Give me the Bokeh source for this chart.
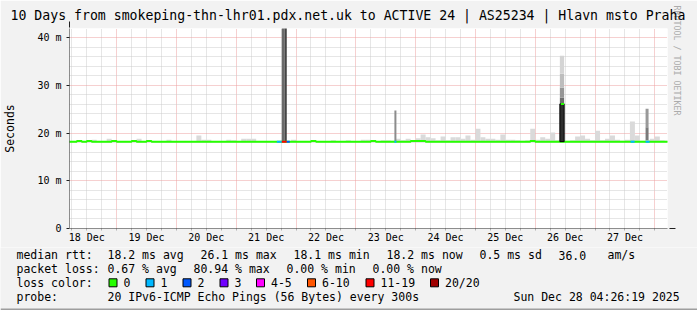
import math
from bokeh.plotting import figure
from bokeh.layouts import column
from bokeh.models import FixedTicker, Arrow, NormalHead, Title
from bokeh.core.properties import value
from bokeh.embed import file_html
from bokeh.resources import INLINE

# ---------------- data ----------------
# time axis: hours since 18 Dec 00:00
x_start_h = 5.08
x_end_h = 245.08
day_labels = ["18 Dec", "19 Dec", "20 Dec", "21 Dec", "22 Dec",
              "23 Dec", "24 Dec", "25 Dec", "26 Dec", "27 Dec"]
day_noon_h = [12, 36, 60, 84, 108, 132, 156, 180, 204, 228]
midnight_h = [24, 48, 72, 96, 120, 144, 168, 192, 216, 240]
quarter_h = [6, 12, 18, 30, 36, 42, 54, 60, 66, 78, 84, 90, 102, 108, 114,
             126, 132, 138, 150, 156, 162, 174, 180, 186, 198, 204, 210,
             222, 228, 234]
y_ticks = [0, 10, 20, 30, 40]
y_tick_labels = ["0", "10 m", "20 m", "30 m", "40 m"]
y_minor = [2, 4, 6, 8, 12, 14, 16, 18, 22, 24, 26, 28, 32, 34, 36, 38]

# 2-hour bins starting at hour 4 (ms)
bin_start = list(range(4, 246, 2))
median_ms = [
    18.2, 18.2, 18.35, 18.2, 18.35, 18.2, 18.2, 18.2, 18.2, 18.35, 18.2, 18.2,
    18.2, 18.35, 18.2, 18.2, 18.35, 18.2, 18.2, 18.2, 18.2, 18.2, 18.2, 18.2,
    18.2, 18.2, 18.2, 18.2, 18.2, 18.2, 18.2, 18.2, 18.2, 18.2, 18.2, 18.2,
    18.2, 18.2, 18.2, 18.2, 18.2, 18.2, 18.2, 18.2, 18.2, 18.2, 18.2, 18.2,
    18.2, 18.35, 18.2, 18.2, 18.2, 18.2, 18.2, 18.2, 18.2, 18.2, 18.2, 18.2,
    18.2, 18.35, 18.2, 18.2, 18.2, 18.2, 18.2, 18.2, 18.2, 18.35, 18.35, 18.35,
    18.2, 18.2, 18.2, 18.2, 18.2, 18.2, 18.2, 18.2, 18.2, 18.2, 18.2, 18.2,
    18.2, 18.2, 18.2, 18.2, 18.2, 18.2, 18.2, 18.2, 18.2, 18.35, 18.2, 18.2,
    18.2, 18.2, 18.2, 18.2, 18.2, 18.2, 18.2, 18.2, 18.2, 18.2, 18.2, 18.2,
    18.2, 18.2, 18.2, 18.2, 18.2, 18.2, 18.2, 18.2, 18.2, 18.2, 18.2, 18.2,
    18.2,
]
smoke_max_ms = [
    18.3, 18.3, 18.3, 18.3, 18.3, 18.6, 18.3, 18.3, 18.8, 18.3, 18.3, 18.3,
    18.3, 18.3, 18.8, 18.3, 18.3, 18.3, 18.3, 18.3, 18.6, 18.3, 18.3, 18.3,
    18.3, 18.3, 19.5, 18.6, 18.6, 18.3, 18.3, 18.3, 18.6, 18.5, 18.3, 18.8,
    18.8, 18.8, 18.3, 18.3, 18.3, 18.3, 18.3, 18.3, 18.3, 18.6, 18.3, 18.3,
    18.3, 18.3, 18.3, 18.3, 18.3, 18.5, 18.3, 18.3, 18.5, 18.3, 18.3, 18.6,
    18.6, 18.3, 18.3, 18.5, 18.5, 18.4, 18.8, 18.5, 18.8, 18.5, 18.9, 19.7,
    19.1, 18.9, 18.5, 19.3, 18.5, 19.1, 19.1, 18.8, 19.5, 18.6, 20.9, 19.1,
    18.8, 18.8, 18.6, 19.7, 18.6, 18.6, 18.5, 18.4, 18.5, 20.9, 18.6, 19.1,
    18.8, 20.1, 18.5, 18.4, 18.4, 18.5, 19.3, 19.5, 18.8, 18.5, 20.5, 18.5,
    18.8, 19.5, 18.6, 18.4, 18.6, 22.4, 19.5, 18.4, 18.5, 18.8, 19.3, 18.5,
    18.4,
]

# dense smoke of the spikes (hours, ms, share of pings in that band)
spike_start_h = [90.28, 91.48, 135.48, 201.88, 201.88, 201.88, 201.88, 236.28, 236.28]
spike_end_h = [91.48, 92.28, 136.28, 203.6, 203.6, 203.6, 203.6, 237.48, 237.48]
spike_low_ms = [18.2, 18.2, 18.2, 26.1, 27.4, 29.5, 32.4, 18.5, 21.2]
spike_high_ms = [60.0, 60.0, 24.7, 27.4, 29.5, 32.4, 36.2, 21.2, 25.1]
spike_density = [0.58, 0.73, 0.45, 0.57, 0.41, 0.26, 0.17, 0.52, 0.40]

# median jump on 26 Dec (ms)
jump_start_h = [201.88]
jump_end_h = [203.6]
jump_low_ms = [18.2]
jump_median_ms = [26.1]

# loss events (hours, lost pings out of 20)
loss_start_h = [88.28, 90.28, 92.28, 135.48, 230.28, 236.28]
loss_end_h = [90.28, 92.28, 93.48, 136.28, 231.88, 237.88]
loss_count = [1, 15, 2, 1, 1, 1]

loss_legend = ["0", "1", "2", "3", "4-5", "6-10", "11-19", "20/20"]
loss_colors = ["#26ff00", "#00b8ff", "#0059ff", "#7000ff", "#ff00ff",
               "#ff5500", "#ff0000", "#a00000"]

stats_rtt = {"avg": 18.2, "max": 26.1, "min": 18.1, "now": 18.2, "sd": 0.5, "ams": 36.0}
stats_loss = {"avg": 0.67, "max": 80.94, "min": 0.00, "now": 0.00}

title_text = "10 Days from smokeping-thn-lhr01.pdx.net.uk to ACTIVE 24 | AS25234 | Hlavn msto Praha"
probe_text = "20 IPv6-ICMP Echo Pings (56 Bytes) every 300s"
stamp_text = "Sun Dec 28 04:26:19 2025"


def loss_color(n):
    if n == 0:
        return loss_colors[0]
    if n == 1:
        return loss_colors[1]
    if n == 2:
        return loss_colors[2]
    if n == 3:
        return loss_colors[3]
    if n <= 5:
        return loss_colors[4]
    if n <= 10:
        return loss_colors[5]
    if n <= 19:
        return loss_colors[6]
    return loss_colors[7]


def grey(d):
    v = int(round(255 * (1 - d)))
    return "#%02x%02x%02x" % (v, v, v)


MONO = "DejaVu Sans Mono"
BACK = "#f2f2f2"
EDGE = "#9e9e9e"
FULL_W = 697
MAIN_H = 247       # frame: top 28, bottom 228
LEG_H = 310 - MAIN_H

# ---------------- main figure ----------------
p = figure(width=FULL_W, height=MAIN_H, x_range=(x_start_h, x_end_h), y_range=(0, 41.9),
           output_backend="svg", toolbar_location=None,
           min_border_left=67, min_border_right=FULL_W - 667, min_border_top=28,
           min_border_bottom=MAIN_H - 228,
           background_fill_color="white", border_fill_color=BACK)
p.outline_line_color = None
p.frame_align = False

p.title.text = title_text
p.title.text_font = MONO
p.title.text_font_size = "13.2px"
p.title.text_font_style = "normal"
p.title.align = "left"
p.title.offset = -59
p.title.text_color = "black"
p.title.standoff = 11

wm = Title(text="RRDTOOL / TOBI OETIKER", text_font=MONO, text_font_size="8.3px",
           text_font_style="normal", text_color="#ababab", align="left",
           vertical_align="top", offset=-23, standoff=4)
p.add_layout(wm, "right")

# grid
p.xgrid.ticker = FixedTicker(ticks=midnight_h, minor_ticks=[h for h in quarter_h if h % 24])
p.ygrid.ticker = FixedTicker(ticks=y_ticks, minor_ticks=y_minor)
for g in (p.xgrid[0], p.ygrid[0]):
    g.grid_line_color = "#eda0a0"
    g.grid_line_dash = "1 1"
    g.grid_line_width = 1
    g.minor_grid_line_color = "#cdcdcd"
    g.minor_grid_line_dash = "1 1"
    g.minor_grid_line_width = 1

# axes
xa = p.xaxis[0]
xa.ticker = FixedTicker(ticks=day_noon_h, minor_ticks=quarter_h + midnight_h)
xa.major_label_overrides = {h: l for h, l in zip(day_noon_h, day_labels)}
xa.axis_line_color = None
xa.major_tick_line_color = None
xa.minor_tick_line_color = "#b0b0b0"
xa.minor_tick_out = 2
xa.minor_tick_in = 0
xa.major_label_standoff = -3
xa.major_label_text_font = MONO
xa.major_label_text_font_size = "10px"
xa.major_label_text_color = "black"

ya = p.yaxis[0]
ya.ticker = FixedTicker(ticks=y_ticks, minor_ticks=y_minor)
ya.major_label_overrides = {t: l for t, l in zip(y_ticks, y_tick_labels)}
ya.axis_line_color = None
ya.major_tick_line_color = "#1f1f1f"
ya.major_tick_out = 3
ya.major_tick_in = 0
ya.minor_tick_line_color = None
ya.major_label_standoff = 4
ya.major_label_text_font = MONO
ya.major_label_text_font_size = "10px"
ya.major_label_text_color = "black"
ya.axis_label = "Seconds"
ya.axis_label_text_font = MONO
ya.axis_label_text_font_size = "11.5px"
ya.axis_label_text_font_style = "normal"
ya.axis_label_text_color = "black"
ya.axis_label_standoff = 17

# smoke
bin_end = [b + 2 for b in bin_start]
p.quad(left=bin_start, right=bin_end, bottom=median_ms, top=smoke_max_ms,
       fill_color="#dadada", line_color=None)

# spikes
p.quad(left=spike_start_h, right=spike_end_h, bottom=spike_low_ms, top=spike_high_ms,
       fill_color=[grey(d) for d in spike_density], line_color=None)

# median line (green, no loss)
step_x = bin_start + [bin_end[-1]]
step_y = median_ms + [median_ms[-1]]
p.step(x=step_x, y=step_y, mode="after", line_color=loss_colors[0], line_width=2)

# jump on 26 Dec
p.quad(left=jump_start_h, right=jump_end_h, bottom=jump_low_ms, top=jump_median_ms,
       fill_color="#2e2e2e", line_color="black", line_width=1)
p.segment(x0=[s + 0.4 for s in jump_start_h], x1=jump_end_h, y0=jump_median_ms,
          y1=jump_median_ms, line_color=loss_colors[0], line_width=2)

# loss colored median pieces
p.segment(x0=loss_start_h, x1=loss_end_h, y0=[18.2] * len(loss_count),
          y1=[18.2] * len(loss_count), line_color=[loss_color(n) for n in loss_count],
          line_width=2)

# axis arrows
px_per_h = 600 / (x_end_h - x_start_h)
px_per_ms = 200 / 41.9
p.add_layout(Arrow(end=NormalHead(size=6, fill_color="#801f1f", line_color="#801f1f"),
                   x_start=x_start_h, y_start=0, x_end=x_start_h + 608 / px_per_h, y_end=0,
                   line_color="#1f1f1f", line_width=1))
p.add_layout(Arrow(end=NormalHead(size=6, fill_color="#801f1f", line_color="#801f1f"),
                   x_start=x_start_h, y_start=0, x_end=x_start_h, y_end=207 / px_per_ms,
                   line_color="#1f1f1f", line_width=1))

# ---------------- legend strip (page pixel coordinates) ----------------
top_px = MAIN_H
q = figure(width=FULL_W, height=LEG_H, x_range=(0, FULL_W), y_range=(top_px + LEG_H, top_px),
           output_backend="svg", toolbar_location=None, min_border=0,
           x_axis_location=None, y_axis_location=None,
           background_fill_color=BACK, border_fill_color=BACK)
q.outline_line_color = None
q.frame_align = False
q.xgrid.visible = False
q.ygrid.visible = False

y1, y2, y3, y4 = 254.5, 268.3, 282.3, 296.2
tx, ty, tt = [], [], []


def put(x, y, s):
    tx.append(x)
    ty.append(y)
    tt.append(s)


put(16, y1, "median rtt:")
put(107, y1, "%.1f ms avg" % stats_rtt["avg"])
put(200, y1, "%.1f ms max" % stats_rtt["max"])
put(293, y1, "%.1f ms min" % stats_rtt["min"])
put(386, y1, "%.1f ms now" % stats_rtt["now"])
put(479, y1, "%.1f ms sd" % stats_rtt["sd"])
put(558, y1, "%.1f" % stats_rtt["ams"])
put(607, y1, "am/s")
put(16, y2, "packet loss:")
put(107, y2, "%.2f %% avg" % stats_loss["avg"])
put(193, y2, "%.2f %% max" % stats_loss["max"])
put(286, y2, "%.2f %% min" % stats_loss["min"])
put(372, y2, "%.2f %% now" % stats_loss["now"])
put(16, y3, "loss color:")
box_x = [108.5, 145.5, 182.5, 219.5, 256, 307, 365.5, 430]
for bx, txt in zip(box_x, loss_legend):
    put(bx + 14.5, y3, txt)
put(16, y4, "probe:")
put(107, y4, probe_text)
put(513, y4, stamp_text)

q.text(x=tx, y=ty, text=tt, text_font=value(MONO), text_font_size="11.5px",
       text_baseline="middle", text_align="left", text_color="black")
q.quad(left=box_x, right=[b + 8 for b in box_x], top=[y3 - 4] * len(box_x),
       bottom=[y3 + 4] * len(box_x), fill_color=loss_colors, line_color="black",
       line_width=1)
# bottom frame edge of the image
q.quad(left=[0], right=[FULL_W], top=[308], bottom=[310], fill_color=EDGE, line_color=None)

layout = column(p, q, spacing=0)
open("out.html", "w").write(file_html(layout, INLINE))
